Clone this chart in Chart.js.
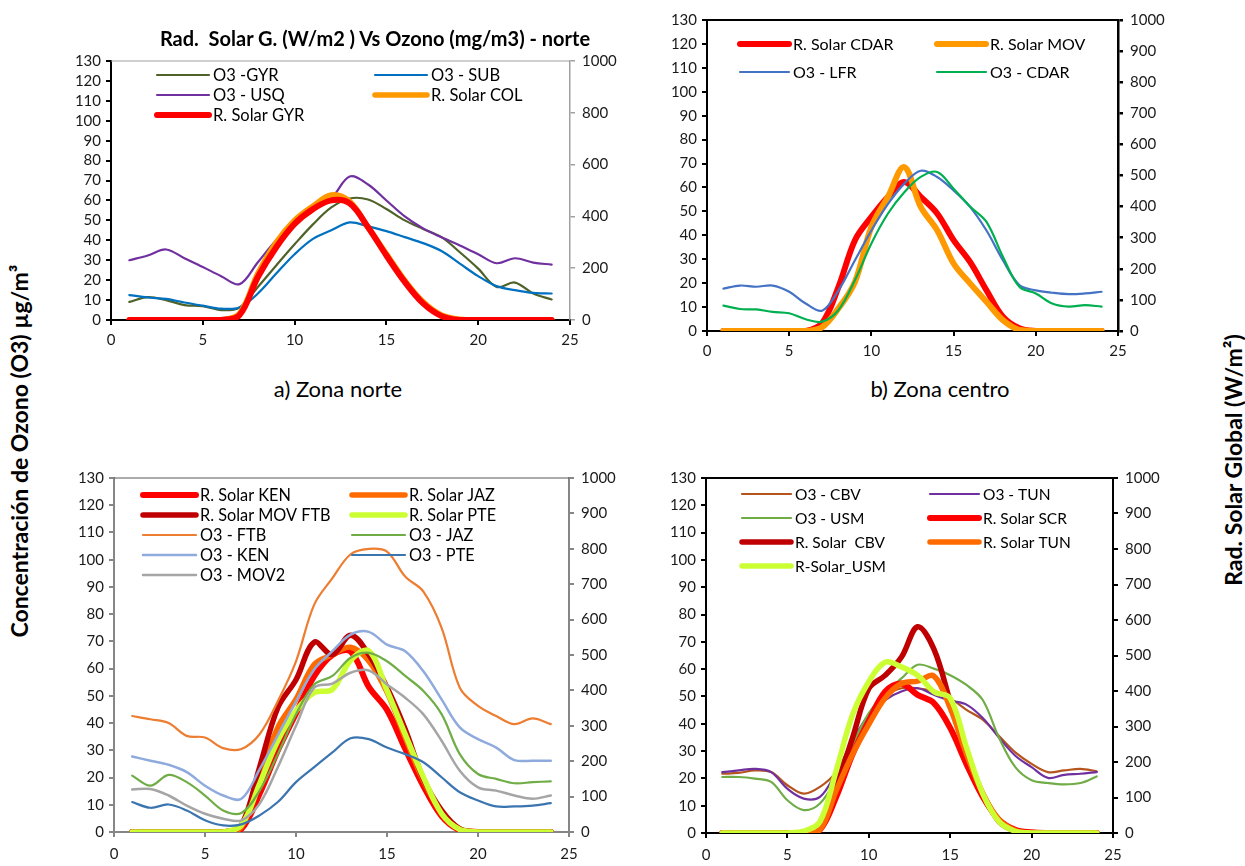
<!DOCTYPE html>
<html>
<head>
<meta charset="utf-8">
<script src="https://cdn.jsdelivr.net/npm/chart.js@4.4.0/dist/chart.umd.min.js"></script>
<style>
  body { margin: 0; background: #fff; width: 1245px; height: 866px; position: relative; overflow: hidden; font-family: Lato, sans-serif; }
  canvas { position: absolute; }
  .t { position: absolute; white-space: nowrap; color: #000; transform: translate(-50%, -50%); }
  .rot { transform: translate(-50%, -50%) rotate(-90deg); font-weight: bold; font-size: 23px; }
</style>
</head>
<body>
<canvas id="cNorte" width="570" height="315" style="left:55px;top:45px"></canvas>
<canvas id="cCentro" width="545" height="366" style="left:650px;top:4px"></canvas>
<canvas id="cSur" width="570" height="404" style="left:55px;top:462px"></canvas>
<canvas id="cOeste" width="545" height="404" style="left:650px;top:462px"></canvas>

<div class="t" style="left:375px;top:38px;font-weight:bold;font-size:20px">Rad.&nbsp; Solar G. (W/m2 ) Vs Ozono (mg/m3) - norte</div>
<div class="t" style="left:338px;top:388px;font-size:22px">a) Zona norte</div>
<div class="t" style="left:940px;top:388px;font-size:22px">b) Zona centro</div>
<div class="t rot" style="left:19px;top:451px">Concentración de Ozono (O3) µg/m³</div>
<div class="t rot" style="left:1233px;top:460px">Rad. Solar Global (W/m²)</div>

<script>
// horas del día
const horas = [1,2,3,4,5,6,7,8,9,10,11,12,13,14,15,16,17,18,19,20,21,22,23,24];

// a) zona norte
const o3GYR = [9.1, 11.5, 10, 7.5, 7, 5, 6.3, 16.6, 27.4, 38, 48, 56.5, 61, 60.5, 55.7, 50, 45.7, 41.6, 34, 25.8, 16.6, 18.8, 13.3, 10.3];
const o3SUB = [12.5, 11.3, 10.6, 8.8, 7.2, 5.7, 6.3, 13.3, 23.3, 33, 40.7, 45, 49, 47, 44.6, 41.6, 38.6, 34.6, 28.3, 22, 17, 15, 13.6, 13.3];
const o3USQ = [30, 32.4, 35.4, 31, 26.6, 22, 18, 29, 40, 48, 55, 61, 72, 68, 60, 52, 46, 41.5, 37.4, 33, 28.5, 31, 28.8, 27.8];
const solarCOL = [0, 0, 0, 0, 0, 0, 25, 180, 300, 385, 440, 483, 458, 358, 256, 153, 70, 19, 3, 0, 0, 0, 0, 0];
const solarGYR = [0, 0, 0, 0, 0, 0, 19, 166, 281, 371, 428, 462, 450, 358, 249, 147, 64, 15, 0, 0, 0, 0, 0, 0];

// b) zona centro
const solarCDAR = [0, 0, 0, 0, 0, 0, 25, 142, 292, 367, 431, 479, 431, 378, 292, 222, 131, 46, 9, 0, 0, 0, 0, 0];
const solarMOV = [0, 0, 0, 0, 0, 0, 12, 73, 158, 335, 431, 527, 399, 324, 217, 153, 94, 35, 3, 0, 0, 0, 0, 0];
const o3LFR = [17.7, 19, 18.5, 19, 16.4, 11.5, 8.5, 17, 29.6, 42, 53, 61.6, 67, 64.4, 58.8, 51.9, 42, 29.6, 19.2, 17, 16, 15.4, 15.7, 16.4];
const o3CDAR = [10.6, 9.2, 9, 8, 7.4, 4.9, 3.9, 8.8, 21.3, 36.6, 49, 58, 64.4, 66.5, 59.5, 52, 45.6, 31, 18.5, 15.7, 11.5, 10.2, 10.8, 10.2];

// c) zona sur
const solarKEN = [0, 0, 0, 0, 0, 0, 9, 108, 230, 335, 440, 500, 510, 410, 345, 235, 130, 45, 5, 0, 0, 0, 0, 0];
const solarJAZ = [0, 0, 0, 0, 0, 0, 14, 155, 295, 375, 473, 501, 522, 483, 395, 267, 145, 56, 9, 0, 0, 0, 0, 0];
const solarMOVFTB = [0, 0, 0, 0, 0, 0, 19, 183, 351, 430, 536, 501, 556, 501, 408, 290, 150, 61, 9, 0, 0, 0, 0, 0];
const solarPTE = [0, 0, 0, 0, 0, 0, 19, 136, 258, 342, 394, 403, 485, 512, 400, 276, 155, 52, 7, 0, 0, 0, 0, 0];
const o3FTB = [42.6, 41.4, 40, 35.3, 34.7, 30.8, 30.5, 35.9, 48, 62.7, 83.5, 93.2, 102, 104, 103, 93.8, 88.3, 75, 53, 46.3, 42.6, 39.6, 41.7, 39.6];
const o3JAZ = [20.7, 17, 21, 18.3, 13.4, 7.9, 7, 15.2, 28.6, 43.2, 54.2, 57.3, 64, 65.8, 62.7, 57.3, 51.8, 43.3, 28.6, 21.3, 19.5, 17.9, 18.3, 18.6];
const o3KEN = [27.7, 26.2, 24.7, 22, 17, 13.4, 12.2, 23, 35.5, 48, 59.7, 66.4, 72.5, 73.5, 68.8, 66.4, 59, 48.7, 38.4, 34.1, 31, 26.4, 26.2, 26.2];
const o3PTE = [11, 8.9, 10.1, 7.9, 4.3, 2.4, 2.8, 6.1, 11, 18.3, 23.8, 29.2, 34.4, 34.1, 31, 28.6, 25.6, 20.1, 14.6, 11.6, 9.4, 9.4, 9.7, 10.6];
const o3MOV2 = [15.6, 15.8, 13.4, 9.7, 6.7, 4.9, 4.3, 10.4, 23.8, 39, 53, 54.5, 58.5, 59.3, 54.2, 49.3, 43.2, 33.5, 22.5, 16.4, 15.2, 13.4, 12.2, 13.4];

// d) cuarto panel
const o3CBV = [21.7, 22, 22.9, 22.3, 17.5, 14.4, 16.9, 22.3, 32.5, 43.3, 50, 53, 53, 51.8, 49.3, 45.1, 41.5, 35.5, 29.5, 25.3, 22.3, 22.9, 23.5, 22.6];
const o3TUN = [22.3, 22.9, 23.5, 22.3, 16.2, 12.6, 13.2, 22.3, 33.7, 43.3, 48.7, 51.8, 53, 50.6, 48.5, 47, 42.1, 34.9, 28.3, 24.1, 20.2, 21.3, 21.7, 22.3];
const o3USM = [20.5, 20.5, 19.9, 18.7, 12, 8.4, 10.8, 19.9, 32.5, 43.9, 51.2, 56.6, 61.6, 60.2, 57.8, 54.2, 48.7, 34.9, 24.1, 19.3, 18.3, 17.8, 18.3, 20.7];
const solarSCR = [0, 0, 0, 0, 0, 0, 9, 102, 222, 315, 398, 421, 389, 366, 296, 194, 102, 37, 9, 2, 0, 0, 0, 0];
const solarCBV = [0, 0, 0, 0, 0, 0, 12, 130, 268, 407, 444, 495, 581, 518, 370, 222, 111, 32, 6, 0, 0, 0, 0, 0];
const solarTUN = [0, 0, 0, 0, 0, 0, 9, 120, 222, 306, 380, 421, 428, 442, 352, 222, 111, 37, 7, 0, 0, 0, 0, 0];
const solarUSM = [0, 0, 0, 0, 0, 5, 32, 176, 333, 426, 481, 468, 444, 398, 380, 241, 111, 32, 5, 0, 0, 0, 0, 0];

// config de leyendas y marcos, por canvas
const extras = {};

const leyenda = {
  id: 'leyenda',
  afterDatasetsDraw(chart) {
    const o = extras[chart.canvas.id];
    const ctx = chart.ctx;
    ctx.save();
    ctx.font = o.size + 'px Lato';
    ctx.textBaseline = 'middle';
    chart.data.datasets.forEach((ds, i) => {
      const x = o.cols[i % 2] - o.box.x;
      const y = o.rows[Math.floor(i / 2)] - o.box.y;
      ctx.strokeStyle = ds.borderColor;
      ctx.lineWidth = ds.borderWidth;
      ctx.lineCap = 'round';
      ctx.beginPath();
      ctx.moveTo(x, y);
      ctx.lineTo(x + o.len, y);
      ctx.stroke();
      ctx.fillStyle = '#000';
      ctx.fillText(ds.label, x + o.len + 4, y + 1);
    });
    ctx.restore();
  }
};

const marco = {
  id: 'marco',
  beforeDatasetsDraw(chart) {
    const o = extras[chart.canvas.id];
    const a = chart.chartArea;
    const ctx = chart.ctx;
    ctx.save();
    ctx.strokeStyle = o.top.color;
    ctx.lineWidth = o.top.width;
    ctx.beginPath();
    ctx.moveTo(a.left, a.top);
    ctx.lineTo(a.right, a.top);
    ctx.stroke();
    ctx.restore();
  }
};

function serie(label, vals, color, width, axis) {
  return {
    label: label,
    data: horas.map((h, i) => ({ x: h, y: vals[i] })),
    borderColor: color,
    backgroundColor: color,
    borderWidth: width,
    yAxisID: axis,
    pointRadius: 0,
    tension: 0.35,
    borderCapStyle: 'round',
    borderJoinStyle: 'round',
    fill: false
  };
}

function eje(color, width, extra) {
  return Object.assign({
    border: { color: color, width: width },
    grid: { drawOnChartArea: false, drawTicks: true, tickLength: 5, color: color, lineWidth: width },
    ticks: {
      color: '#1a1a1a', font: { family: 'Lato', size: 15 }, padding: 5,
      autoSkip: false, maxRotation: 0,
      callback: v => String(v)
    }
  }, extra);
}

function grafico(id, box, area, datasets, c) {
  extras[id] = Object.assign({ box: box }, c.legend, { top: c.top });
  datasets.forEach((d, i) => { d.order = -i; });
  const izq = eje(c.left.color, c.left.width, {
    type: 'linear', position: 'left', min: 0, max: 130,
    afterFit: s => { s.width = area.l - box.x; }
  });
  izq.ticks.stepSize = 10;
  const der = eje(c.right.color, c.right.width, {
    type: 'linear', position: 'right', min: 0, max: 1000,
    afterFit: s => { s.width = box.x + box.w - area.r; }
  });
  der.ticks.stepSize = c.rightStep;
  der.ticks.padding = 7;
  const abajo = eje(c.bottom.color, c.bottom.width, {
    type: 'linear', position: 'bottom', min: 0, max: 25,
    afterFit: s => { s.height = box.y + box.h - area.b; }
  });
  abajo.ticks.stepSize = 5;
  abajo.ticks.padding = c.xPad;
  new Chart(document.getElementById(id), {
    type: 'line',
    data: { datasets: datasets },
    options: {
      responsive: false,
      animation: false,
      layout: { padding: { top: area.t - box.y, left: 0, right: 0, bottom: 0 } },
      plugins: { legend: { display: false }, tooltip: { enabled: false } },
      scales: { x: abajo, y: izq, y2: der }
    },
    plugins: [marco, leyenda]
  });
}

const negro = { color: '#000', width: 2 };

grafico('cNorte', { x: 55, y: 45, w: 570, h: 315 }, { l: 111, t: 59.5, r: 570, b: 320 }, [
  serie('O3 -GYR', o3GYR, '#4F6228', 2.2, 'y'),
  serie('O3 - SUB', o3SUB, '#0070C0', 2.2, 'y'),
  serie('O3 - USQ', o3USQ, '#7030A0', 2.2, 'y'),
  serie('R. Solar COL', solarCOL, '#FF9900', 5.5, 'y2'),
  serie('R. Solar GYR', solarGYR, '#FF0000', 6, 'y2')
], {
  left: negro, bottom: negro, right: { color: '#a0a0a0', width: 1.5 }, top: { color: '#a0a0a0', width: 1 },
  rightStep: 200, xPad: 6,
  legend: { cols: [157, 375], rows: [75, 95, 115], len: 52, size: 16.5 }
});

grafico('cCentro', { x: 650, y: 4, w: 545, h: 366 }, { l: 707, t: 19.3, r: 1118, b: 331 }, [
  serie('R. Solar CDAR', solarCDAR, '#FF0000', 6, 'y2'),
  serie('R. Solar MOV', solarMOV, '#FF9900', 6, 'y2'),
  serie('O3 - LFR', o3LFR, '#4472C4', 2.2, 'y'),
  serie('O3 - CDAR', o3CDAR, '#00B050', 2.2, 'y')
], {
  left: negro, bottom: negro, right: { color: '#000', width: 2.5 }, top: { color: '#000', width: 2 },
  rightStep: 100, xPad: 6,
  legend: { cols: [740, 937], rows: [44, 72], len: 49, size: 16 }
});

const gris = { color: '#868686', width: 2 };

grafico('cSur', { x: 55, y: 462, w: 570, h: 404 }, { l: 114, t: 476, r: 569, b: 832 }, [
  serie('R. Solar KEN', solarKEN, '#FF0000', 6, 'y2'),
  serie('R. Solar JAZ', solarJAZ, '#FF6A00', 5.5, 'y2'),
  serie('R. Solar MOV FTB', solarMOVFTB, '#C00000', 5.5, 'y2'),
  serie('R. Solar PTE', solarPTE, '#CCFF33', 5.5, 'y2'),
  serie('O3 - FTB', o3FTB, '#ED7D31', 2.2, 'y'),
  serie('O3 - JAZ', o3JAZ, '#70AD47', 2.2, 'y'),
  serie('O3 - KEN', o3KEN, '#8FAADC', 2.5, 'y'),
  serie('O3 - PTE', o3PTE, '#3A75B0', 2.2, 'y'),
  serie('O3 - MOV2', o3MOV2, '#A5A5A5', 2.5, 'y')
], {
  left: gris, bottom: gris, right: gris, top: { color: '#595959', width: 1.2 },
  rightStep: 100, xPad: 8,
  legend: { cols: [143, 352], rows: [495, 515, 535, 555, 575], len: 53, size: 16.3 }
});

grafico('cOeste', { x: 650, y: 462, w: 545, h: 404 }, { l: 706, t: 473, r: 1113, b: 833 }, [
  serie('O3 - CBV', o3CBV, '#B5541C', 2.2, 'y'),
  serie('O3 - TUN', o3TUN, '#7030A0', 2.2, 'y'),
  serie('O3 - USM', o3USM, '#70AD47', 2.2, 'y'),
  serie('R. Solar SCR', solarSCR, '#FF0000', 6, 'y2'),
  serie('R. Solar  CBV', solarCBV, '#C00000', 5.5, 'y2'),
  serie('R. Solar TUN', solarTUN, '#FF6A00', 5.5, 'y2'),
  serie('R-Solar_USM', solarUSM, '#CCFF33', 5.5, 'y2')
], {
  left: negro, bottom: negro, right: negro, top: { color: '#000', width: 2 },
  rightStep: 100, xPad: 8,
  legend: { cols: [742, 930], rows: [494, 518, 542, 566], len: 49, size: 15.5 }
});
</script>
</body>
</html>
